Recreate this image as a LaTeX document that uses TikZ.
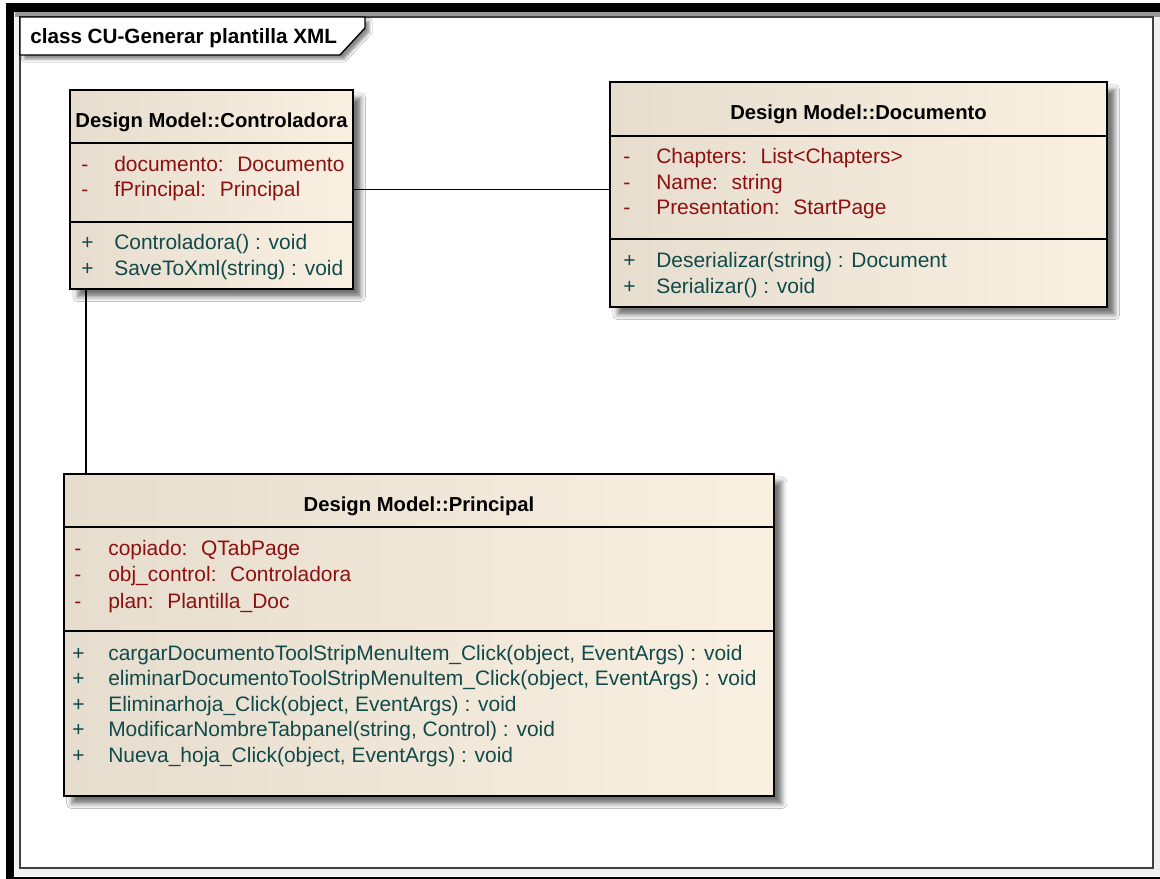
\documentclass[tikz,border=0pt]{standalone}
\usepackage{fontspec}
\setmainfont{Liberation Sans}
\usetikzlibrary{shadows.blur,calc}

\definecolor{attrred}{RGB}{140,16,16}
\definecolor{opteal}{RGB}{16,74,74}
\definecolor{boxleft}{RGB}{231,221,206}
\definecolor{boxright}{RGB}{250,240,226}

\begin{document}
\begin{tikzpicture}[x=0.025cm, y=-0.025cm,
% common options for the class boxes:
classbox/.style = {draw, line width=1.2pt, left color=boxleft, right color=boxright,
            inner sep=0, blur shadow={shadow xshift=5.5pt, shadow yshift=-5.5pt,
            shadow blur radius=3.5pt, shadow opacity=55}},
% common options for the texts:
head/.style = {font=\fontsize{14.4}{17}\selectfont\bfseries, anchor=base, inner sep=0},
attr/.style = {font=\fontsize{14.9}{17}\selectfont, text=attrred, anchor=base west, inner sep=0},
oper/.style = {font=\fontsize{14.9}{17}\selectfont, text=opteal, anchor=base west, inner sep=0},
sep/.style = {line width=1pt}]
\useasboundingbox (0,0) rectangle (1160,879);
% frame
\fill[white] (0,0) rectangle (1160,879);
\fill[black!6] (15,12) rectangle (1160,876);
\draw[black!40, line width=3pt] (15,14.5) -- (1160,14.5);
\draw[line width=6.4pt] (10,8) rectangle (1170,881);
\draw[fill=white, draw=black!75, line width=1.2pt] (20,17) rectangle (1153,868);
\draw[fill=white, line width=1pt, blur shadow={shadow xshift=3pt, shadow yshift=-3pt,
    shadow blur radius=2pt, shadow opacity=45}]
    (20,17) -- (365,17) -- (365,28) -- (340,55) -- (20,55) -- cycle;
\node[head, font=\fontsize{14.7}{17}\selectfont\bfseries, anchor=base west] (T0) at (30,43.5) {class CU-Generar plantilla XML};
% boxes
\node[classbox, minimum width=7.075cm, minimum height=4.975cm] (C) at (211.5,189.5) {};
\node[classbox, minimum width=12.425cm, minimum height=5.625cm] (D) at (858.5,194.5) {};
\node[classbox, minimum width=17.75cm, minimum height=8.05cm] (P) at (419,635) {};
\draw[sep] (C.west |- 0,143) -- (C.east |- 0,143);
\draw[sep] (C.west |- 0,222) -- (C.east |- 0,222);
\draw[sep] (D.west |- 0,136) -- (D.east |- 0,136);
\draw[sep] (D.west |- 0,239) -- (D.east |- 0,239);
\draw[sep] (P.west |- 0,527) -- (P.east |- 0,527);
\draw[sep] (P.west |- 0,631) -- (P.east |- 0,631);
% Controladora
\node[head] (C0) at (211.5,128) {Design Model::Controladora};
\node[attr] (C1) at (81,171.5) {\makebox[0.825cm][l]{-}documento: ~Documento};
\node[attr] (C2) at (81,197) {\makebox[0.825cm][l]{-}fPrincipal: ~Principal};
\node[oper] (C3) at (81,250) {\makebox[0.825cm][l]{+}Controladora() : void};
\node[oper] (C4) at (81,275.5) {\makebox[0.825cm][l]{+}SaveToXml(string) : void};
% Documento
\node[head] (D0) at (858.5,120) {Design Model::Documento};
\node[attr] (D1) at (623,163.3) {\makebox[0.825cm][l]{-}Chapters: ~List<Chapters>};
\node[attr] (D2) at (623,189.3) {\makebox[0.825cm][l]{-}Name: ~string};
\node[attr] (D3) at (623,215) {\makebox[0.825cm][l]{-}Presentation: ~StartPage};
\node[oper] (D4) at (623,267.7) {\makebox[0.825cm][l]{+}Deserializar(string) : Document};
\node[oper] (D5) at (623,293.3) {\makebox[0.825cm][l]{+}Serializar() : void};
% Principal
\node[head] (P0) at (419,511.7) {Design Model::Principal};
\node[attr] (P1) at (74,555.7) {\makebox[0.85cm][l]{-}copiado: ~QTabPage};
\node[attr] (P2) at (74,581.7) {\makebox[0.85cm][l]{-}obj\_control: ~Controladora};
\node[attr] (P3) at (74,608) {\makebox[0.85cm][l]{-}plan: ~Plantilla\_Doc};
\node[oper] (P4) at (72,660) {\makebox[0.9cm][l]{+}cargarDocumentoToolStripMenuItem\_Click(object, EventArgs) : void};
\node[oper] (P5) at (72,685.5) {\makebox[0.9cm][l]{+}eliminarDocumentoToolStripMenuItem\_Click(object, EventArgs) : void};
\node[oper] (P6) at (72,711) {\makebox[0.9cm][l]{+}Eliminarhoja\_Click(object, EventArgs) : void};
\node[oper] (P7) at (72,736.5) {\makebox[0.9cm][l]{+}ModificarNombreTabpanel(string, Control) : void};
\node[oper] (P8) at (72,762) {\makebox[0.9cm][l]{+}Nueva\_hoja\_Click(object, EventArgs) : void};
% connectors
\coordinate (c1) at ($(C.south west)+(17,0)$);
\draw[line width=1pt] (C.east) -- (C.east -| D.west);
\draw[line width=1pt] (c1) -- (c1 |- P.north);
\end{tikzpicture}
\end{document}
